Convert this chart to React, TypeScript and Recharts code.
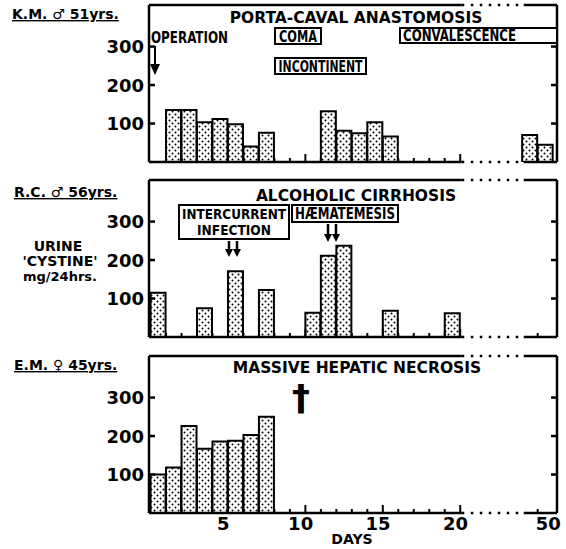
import React from 'react';
import { BarChart, Bar, XAxis, YAxis, ReferenceLine } from 'recharts';

// urine cystine (mg/24hrs) by day
const kmDays = [2, 3, 4, 5, 6, 7, 8, 12, 13, 14, 15, 16, 49, 50];
const kmCystine = [135, 135, 103, 112, 98, 40, 76, 132, 81, 75, 103, 66, 70, 45];

const rcDays = [1, 4, 6, 8, 11, 12, 13, 16, 20];
const rcCystine = [115, 75, 171, 122, 63, 211, 237, 68, 62];

const emDays = [1, 2, 3, 4, 5, 6, 7, 8];
const emCystine = [100, 118, 226, 167, 186, 188, 203, 250];

const tickDays = [1, 2, 3, 4, 5, 6, 7, 8, 9, 10, 11, 12, 13, 14, 15, 16, 17, 18, 19, 20, 49, 50];
const labelDays = [5, 10, 15, 20, 50];
const yTicks = [100, 200, 300];

const W = 566;
const PLOT_LEFT = 149;
const PLOT_RIGHT = 557;
const PLOT_H = 157;
const TOP_PAD = 6;
const AXIS_H = 32;
const CHART_H = TOP_PAD + PLOT_H + AXIS_H;
const Y_MAX = 408;
const X_MIN = 0.4;
const X_MAX = 26.75;
const DAY_PX = (PLOT_RIGHT - PLOT_LEFT) / (X_MAX - X_MIN);

const NUM_FONT = '"DejaVu Sans", Verdana, sans-serif';
const NARROW_FONT = '"Liberation Sans Narrow", "DejaVu Sans Condensed", "Arial Narrow", sans-serif';

// days 21-48 are cut out of the axis, so 49 and 50 follow straight after the break
const toPos = (day: number) => (day > 20 ? day - 24 : day);
const toDay = (pos: number) => (pos > 20 ? pos + 24 : pos);

const borderParts = [
  { from: X_MIN, to: 20.6, dotted: false },
  { from: 20.6, to: 24.5, dotted: true },
  { from: 24.6, to: X_MAX, dotted: false },
];

function DayTick(props: any) {
  const { x, payload, showLabels } = props;
  const day = toDay(payload.value);
  const base = TOP_PAD + PLOT_H;
  const tx = x + DAY_PX / 2;
  const major = day % 5 === 0;
  return (
    <g>
      {day !== 50 && (
        <line x1={tx} x2={tx} y1={base} y2={base - (major ? 8 : 4)} stroke="#000" strokeWidth={2} />
      )}
      {showLabels && labelDays.includes(day) && (
        <text x={x + 3} y={base + 17} textAnchor="middle" fontFamily={NUM_FONT} fontWeight="bold" fontSize={18} fill="#000">
          {day}
        </text>
      )}
    </g>
  );
}

function LeftTick(props: any) {
  const { y, payload } = props;
  return (
    <g>
      <line x1={PLOT_LEFT} x2={PLOT_LEFT + 6} y1={y} y2={y} stroke="#000" strokeWidth={2.5} />
      <text x={PLOT_LEFT - 5} y={y} dy="0.36em" textAnchor="end" fontFamily={NUM_FONT} fontWeight="bold" fontSize={18} fill="#000">
        {payload.value}
      </text>
    </g>
  );
}

function RightTick(props: any) {
  const { y } = props;
  return <line x1={PLOT_RIGHT - 6} x2={PLOT_RIGHT} y1={y} y2={y} stroke="#000" strokeWidth={2.5} />;
}

function Panel({ days, values, top, showLabels }: { days: number[]; values: number[]; top: number; showLabels?: boolean }) {
  const data = days.map((d, i) => ({ pos: toPos(d), cystine: values[i] }));
  return (
    <div style={{ position: 'absolute', left: 0, top: top - TOP_PAD }}>
      <BarChart width={W} height={CHART_H} data={data} margin={{ top: TOP_PAD, right: 0, bottom: 0, left: 0 }}>
        <XAxis
          type="number"
          dataKey="pos"
          domain={[X_MIN, X_MAX]}
          allowDataOverflow
          ticks={tickDays.map(toPos)}
          interval={0}
          tickLine={false}
          axisLine={false}
          height={AXIS_H}
          tick={(p: any) => <DayTick {...p} showLabels={showLabels} />}
        />
        <YAxis
          yAxisId="l"
          width={PLOT_LEFT}
          domain={[0, Y_MAX]}
          allowDataOverflow
          ticks={yTicks}
          interval={0}
          tickLine={false}
          axisLine={{ stroke: '#000', strokeWidth: 2.5 }}
          tick={(p: any) => <LeftTick {...p} />}
        />
        <YAxis
          yAxisId="r"
          orientation="right"
          width={W - PLOT_RIGHT}
          domain={[0, Y_MAX]}
          allowDataOverflow
          ticks={yTicks}
          interval={0}
          tickLine={false}
          axisLine={{ stroke: '#000', strokeWidth: 2.5 }}
          tick={(p: any) => <RightTick {...p} />}
        />
        {[0, Y_MAX].flatMap((yv) =>
          borderParts.map((b) => (
            <ReferenceLine
              key={`${yv}-${b.from}`}
              yAxisId="l"
              ifOverflow="visible"
              segment={[{ x: b.from, y: yv }, { x: b.to, y: yv }]}
              stroke="#000"
              strokeWidth={2.5}
              strokeDasharray={b.dotted ? '2.5 6.5' : undefined}
            />
          ))
        )}
        <Bar yAxisId="l" dataKey="cystine" fill="url(#stipple)" stroke="#000" strokeWidth={2} barSize={15} isAnimationActive={false} />
      </BarChart>
    </div>
  );
}

function BoxLabel({ x, y, w, h, lines, len }: { x: number; y: number; w: number; h: number; lines: string[]; len: number[] }) {
  const fs = lines.length > 1 ? 14 : 16;
  return (
    <g>
      <rect x={x} y={y} width={w} height={h} fill="#fff" stroke="#000" strokeWidth={2} />
      {lines.map((t, i) => (
        <text
          key={t}
          x={x + w / 2}
          y={y + 14 + i * 16}
          textAnchor="middle"
          fontFamily={NARROW_FONT}
          fontWeight="bold"
          fontSize={fs}
          textLength={len[i]}
          lengthAdjust="spacingAndGlyphs"
        >
          {t}
        </text>
      ))}
    </g>
  );
}

function DoubleArrow({ x, y1, y2 }: { x: number; y1: number; y2: number }) {
  return (
    <g>
      {[-4, 4].map((dx) => (
        <g key={dx}>
          <line x1={x + dx} x2={x + dx} y1={y1} y2={y2 - 5} stroke="#000" strokeWidth={2.5} />
          <polygon points={`${x + dx - 4},${y2 - 8} ${x + dx + 4},${y2 - 8} ${x + dx},${y2}`} fill="#000" />
        </g>
      ))}
    </g>
  );
}

const bold = { fontFamily: NUM_FONT, fontWeight: 'bold' as const, fill: '#000' };

export default function App() {
  return (
    <div style={{ position: 'absolute', left: 0, top: 0, width: W, height: 549, background: '#fff' }}>
      <svg width={0} height={0} style={{ position: 'absolute' }}>
        <defs>
          <pattern id="stipple" patternUnits="userSpaceOnUse" width={6} height={6}>
            <rect width={6} height={6} fill="#fff" />
            <circle cx={1.5} cy={1.5} r={1} fill="#000" />
            <circle cx={4.5} cy={4.5} r={1} fill="#000" />
          </pattern>
        </defs>
      </svg>

      <Panel days={kmDays} values={kmCystine} top={5} />
      <Panel days={rcDays} values={rcCystine} top={180} />
      <Panel days={emDays} values={emCystine} top={356} showLabels />

      <svg width={W} height={549} style={{ position: 'absolute', left: 0, top: 0 }}>
        {/* patient labels */}
        <text x={12} y={19} fontSize={14} textDecoration="underline" {...bold}>K.M. ♂ 51yrs.</text>
        <text x={14} y={197} fontSize={14} textDecoration="underline" {...bold}>R.C. ♂ 56yrs.</text>
        <text x={14} y={370} fontSize={14} textDecoration="underline" {...bold}>E.M. ♀ 45yrs.</text>

        {/* y axis title */}
        <text x={58} y={251} fontSize={14} textAnchor="middle" {...bold}>URINE</text>
        <text x={60} y={266} fontSize={14} textAnchor="middle" {...bold}>'CYSTINE'</text>
        <text x={60} y={281} fontSize={13} textAnchor="middle" {...bold}>mg/24hrs.</text>

        {/* panel titles */}
        <text x={356} y={23} fontSize={15.5} textAnchor="middle" {...bold}>PORTA-CAVAL ANASTOMOSIS</text>
        <text x={356} y={201} fontSize={15.5} textAnchor="middle" {...bold}>ALCOHOLIC CIRRHOSIS</text>
        <text x={357} y={373} fontSize={15.5} textAnchor="middle" {...bold}>MASSIVE HEPATIC NECROSIS</text>

        {/* K.M. events */}
        <text x={151} y={43} fontFamily={NARROW_FONT} fontWeight="bold" fontSize={16} textLength={77} lengthAdjust="spacingAndGlyphs">OPERATION</text>
        <line x1={155} x2={155} y1={46} y2={68} stroke="#000" strokeWidth={2} />
        <polygon points="150,64 160,64 155,75" fill="#000" />
        <BoxLabel x={275} y={28} w={46} h={16} lines={['COMA']} len={[38]} />
        <BoxLabel x={275} y={58} w={91} h={16} lines={['INCONTINENT']} len={[84]} />
        <rect x={400} y={28} width={PLOT_RIGHT - 400} height={15} fill="#fff" stroke="#000" strokeWidth={2} />
        <text x={403} y={41} fontFamily={NARROW_FONT} fontWeight="bold" fontSize={16} textLength={113} lengthAdjust="spacingAndGlyphs">CONVALESCENCE</text>

        {/* R.C. events */}
        <BoxLabel x={179} y={205} w={110} h={34} lines={['INTERCURRENT', 'INFECTION']} len={[104, 74]} />
        <BoxLabel x={292} y={205} w={106} h={17} lines={['HÆMATEMESIS']} len={[100]} />
        <DoubleArrow x={233} y1={241} y2={257} />
        <DoubleArrow x={332} y1={224} y2={242} />

        {/* E.M. death */}
        <text x={301} y={410} fontSize={36} textAnchor="middle" {...bold}>†</text>

        <text x={352} y={544} fontSize={14} textAnchor="middle" {...bold}>DAYS</text>
      </svg>
    </div>
  );
}
